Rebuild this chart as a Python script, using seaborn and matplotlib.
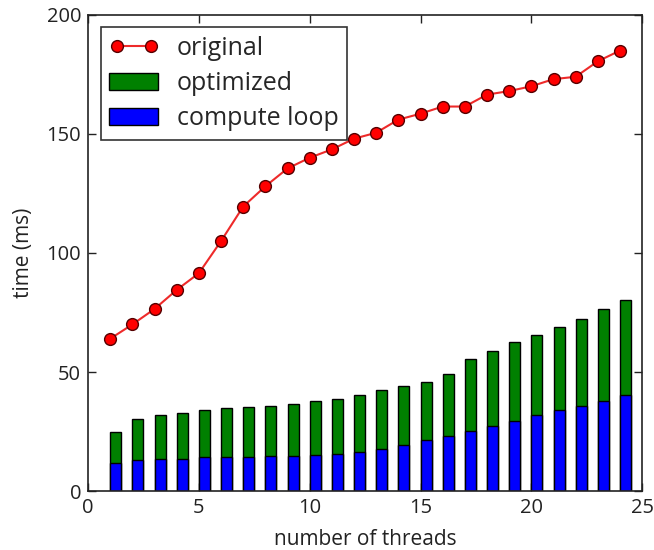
import numpy as np
import pandas as pd
import matplotlib
matplotlib.use("Agg")
import matplotlib.pyplot as plt
import seaborn as sns
from matplotlib.patches import Patch
from matplotlib.lines import Line2D

# values
threads = list(range(1, 25))
original = [64, 70, 76.5, 84.5, 91.5, 105, 119.5, 128, 135.5, 140, 143.5, 148,
            150.5, 156, 158.5, 161.5, 161.5, 166.5, 168, 170, 173, 174, 180.5, 185]
optimized = [24.7, 30.3, 31.8, 32.8, 33.9, 35.0, 35.4, 35.8, 36.8, 37.8, 38.9, 40.2,
             42.4, 44.0, 45.9, 49.0, 55.5, 58.9, 62.6, 65.5, 69.0, 72.4, 76.5, 80.1]
compute_loop = [11.9, 13.0, 13.6, 13.6, 14.2, 14.2, 14.2, 14.6, 14.6, 15.0, 15.7, 16.5,
                17.9, 19.3, 21.3, 23.2, 25.3, 27.3, 29.4, 31.9, 33.9, 35.8, 37.9, 40.3]

df = pd.DataFrame({"threads": threads, "original": original,
                   "optimized": optimized, "compute loop": compute_loop})
# old matplotlib bars were edge-aligned: shift centre by half the bar width
bar_w = 0.5
df["bar_x"] = df["threads"] + bar_w / 2

sns.set_style("ticks")
plt.rcParams['font.family'] = ['Open Sans', 'DejaVu Sans']

fig = plt.figure(figsize=(6.54, 5.5), dpi=100)
ax = fig.add_axes([0.1346, 0.107, 0.8473, 0.866])

sns.barplot(data=df, x="bar_x", y="optimized", native_scale=True, width=bar_w,
            color="#008000", saturation=1, edgecolor="black", linewidth=1, ax=ax)
sns.barplot(data=df, x="bar_x", y="compute loop", native_scale=True, width=bar_w,
            color="#0000ff", saturation=1, edgecolor="black", linewidth=1, ax=ax)
sns.lineplot(data=df, x="threads", y="original", color="#ee2a2a", marker="o",
             markersize=8.5, markerfacecolor="red", markeredgecolor="#550000",
             markeredgewidth=1, linewidth=1.5, ax=ax)

ax.set_xlim(0, 25)
ax.set_ylim(0, 200)
ax.set_xticks(range(0, 26, 5))
ax.set_yticks(range(0, 201, 50))
ax.tick_params(direction="in", top=True, right=True, length=6, width=1,
               labelsize=14.5, colors="#222222", pad=5)
for s in ax.spines.values():
    s.set_visible(True)
    s.set_color("#222222")
    s.set_linewidth(1.2)
ax.set_xlabel("number of threads", fontsize=15, color="#222222", labelpad=8)
ax.set_ylabel("time (ms)", fontsize=15, color="#222222", labelpad=9)

handles = [Line2D([], [], color="#ee2a2a", marker="o", markersize=8.5,
                  markerfacecolor="red", markeredgecolor="#550000", linewidth=1.5),
           Patch(facecolor="#008000", edgecolor="black"),
           Patch(facecolor="#0000ff", edgecolor="black")]
leg = ax.legend(handles, ["original", "optimized", "compute loop"], loc="upper left",
                fontsize=18, frameon=True, fancybox=False, numpoints=2,
                handlelength=1.95, handletextpad=0.75, borderpad=0.35,
                borderaxespad=0.5, labelspacing=0.4)
leg.get_frame().set_edgecolor("black")
leg.get_frame().set_linewidth(1.2)

fig.savefig("out.png", dpi=100)
